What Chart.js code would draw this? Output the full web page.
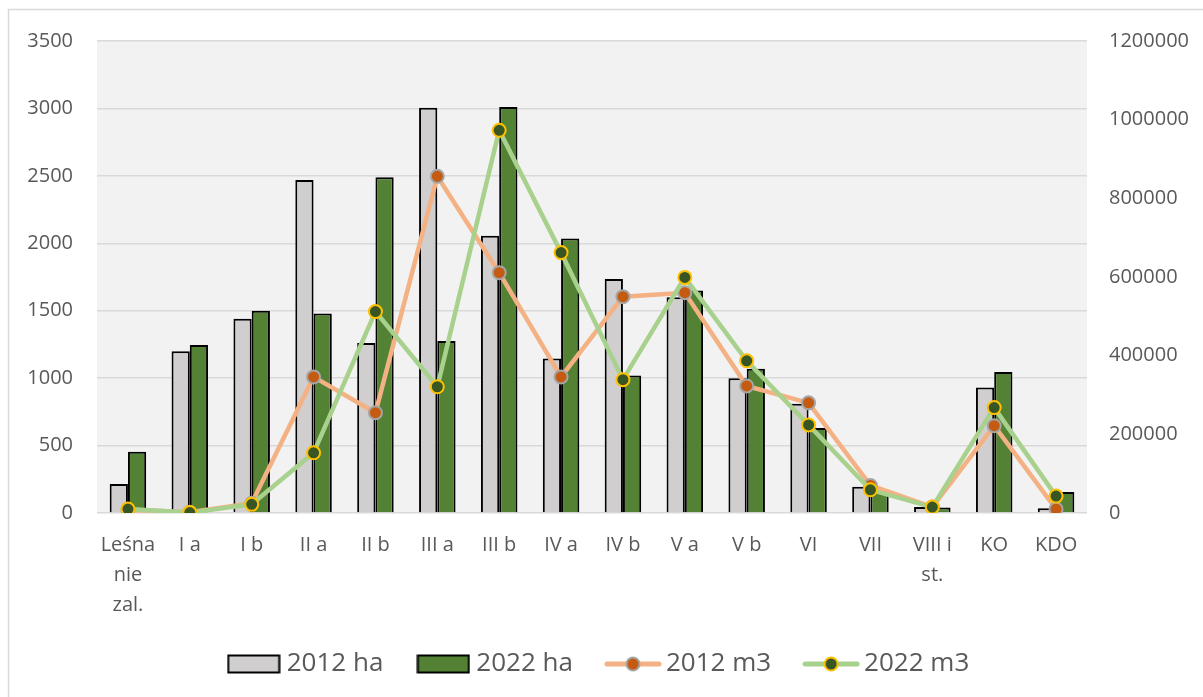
<!DOCTYPE html>
<html>
<head>
<meta charset="utf-8">
<script src="https://cdn.jsdelivr.net/npm/chart.js@4/dist/chart.umd.min.js"></script>
<style>
html,body{margin:0;padding:0;background:#fff;}
#wrap{width:1203px;height:697px;position:relative;}
</style>
</head>
<body>
<div id="wrap"><canvas id="c" width="1203" height="697"></canvas></div>
<script>
const categories = [["Leśna","nie","zal."],"I a","I b","II a","II b","III a","III b","IV a","IV b","V a","V b","VI","VII",["VIII i","st."],"KO","KDO"];
const ha2012 = [215,1200,1440,2470,1260,3005,2055,1145,1735,1600,1000,810,195,45,930,35];
const ha2022 = [455,1245,1500,1480,2490,1275,3010,2035,1020,1650,1070,630,165,40,1045,155];
const m3_2012 = [8000,2000,25000,346000,255000,856000,611000,346000,550000,560000,323000,280000,70000,15000,222000,10000];
const m3_2022 = [10000,1000,22000,153000,512000,321000,973000,662000,339000,599000,387000,224000,59000,15000,268000,43000];
const seriesNames = ["2012 ha","2022 ha","2012 m3","2022 m3"];
const leftTicks = {min:0,max:3500,step:500};
const rightTicks = {min:0,max:1200000,step:200000};

const FONT = "'Open Sans', sans-serif";
const TXT = '#595959';

function barSym(fill){
  const c=document.createElement('canvas'); c.width=54; c.height=20;
  const x=c.getContext('2d');
  x.fillStyle=fill; x.fillRect(1.5,1.5,51,17);
  x.strokeStyle='#000'; x.lineWidth=2; x.strokeRect(1.5,1.5,51,17);
  return c;
}
function lineSym(line,fill,border){
  const c=document.createElement('canvas'); c.width=58; c.height=20;
  const x=c.getContext('2d');
  x.strokeStyle=line; x.lineWidth=5; x.lineCap='round';
  x.beginPath(); x.moveTo(3,10); x.lineTo(55,10); x.stroke();
  x.beginPath(); x.arc(29,10,6.5,0,Math.PI*2); x.fillStyle=fill; x.fill();
  x.lineWidth=2; x.strokeStyle=border; x.stroke();
  return c;
}
const syms=[barSym('#d0cece'),barSym('#548235'),lineSym('#f4b183','#c55a11','#a5a5a5'),lineSym('#a9d18e','#375623','#ffc000')];

const bgPlugin={
  id:'bg',
  beforeDraw(chart){
    const {ctx,chartArea:a}=chart;
    ctx.save();
    ctx.fillStyle='#fff'; ctx.fillRect(0,0,chart.width,chart.height);
    ctx.strokeStyle='#d9d9d9'; ctx.lineWidth=1.5;
    ctx.strokeRect(8.5,9.5,1400,900);
    ctx.fillStyle='#f2f2f2';
    ctx.fillRect(a.left,a.top,a.right-a.left,a.bottom-a.top);
    ctx.restore();
  }
};

new Chart(document.getElementById('c'),{
  data:{
    labels:categories,
    datasets:[
      {type:'bar',label:seriesNames[0],data:ha2012,yAxisID:'y',backgroundColor:'#d0cece',borderColor:'#000',borderWidth:2,order:2,barPercentage:1,categoryPercentage:0.59},
      {type:'bar',label:seriesNames[1],data:ha2022,yAxisID:'y',backgroundColor:'#548235',borderColor:'#000',borderWidth:2,order:3,barPercentage:1,categoryPercentage:0.59},
      {type:'line',label:seriesNames[2],data:m3_2012,yAxisID:'y1',borderColor:'#f4b183',borderWidth:4.5,pointBackgroundColor:'#c55a11',pointBorderColor:'#a5a5a5',pointBorderWidth:2,pointRadius:6.5,pointHoverRadius:6.5,tension:0,order:1},
      {type:'line',label:seriesNames[3],data:m3_2022,yAxisID:'y1',borderColor:'#a9d18e',borderWidth:4.5,pointBackgroundColor:'#375623',pointBorderColor:'#ffc000',pointBorderWidth:2,pointRadius:6.5,pointHoverRadius:6.5,tension:0,order:0}
    ]
  },
  options:{
    responsive:false,
    animation:false,
    devicePixelRatio:1,
    layout:{padding:{left:10,right:10,top:41,bottom:10}},
    plugins:{
      tooltip:{enabled:false},
      legend:{
        position:'bottom',
        labels:{
          font:{family:FONT,size:26},
          color:TXT,
          usePointStyle:true,
          pointStyleWidth:40,
          boxHeight:20,
          padding:40,
          sort:(a,b)=>a.datasetIndex-b.datasetIndex,
          generateLabels(chart){
            const items=Chart.defaults.plugins.legend.labels.generateLabels(chart);
            items.forEach(it=>{it.pointStyle=syms[it.datasetIndex];});
            return items;
          }
        }
      }
    },
    scales:{
      x:{
        grid:{display:false},
        border:{display:false},
        ticks:{font:{family:FONT,size:20,lineHeight:1.5},color:TXT,padding:9,maxRotation:0,autoSkip:false},
        afterFit(s){s.height=98;}
      },
      y:{
        position:'left',
        min:leftTicks.min,max:leftTicks.max,
        ticks:{stepSize:leftTicks.step,font:{family:FONT,size:20},color:TXT,padding:24,callback:v=>String(v)},
        grid:{color:'#d9d9d9',lineWidth:1.5,drawTicks:false},
        border:{display:false},
        afterFit(s){s.width=87;}
      },
      y1:{
        position:'right',
        min:rightTicks.min,max:rightTicks.max,
        ticks:{stepSize:rightTicks.step,font:{family:FONT,size:20},color:TXT,padding:22,callback:v=>String(v)},
        grid:{drawOnChartArea:false,drawTicks:false},
        border:{display:false},
        afterFit(s){s.width=106;}
      }
    }
  },
  plugins:[bgPlugin]
});
</script>
</body>
</html>
